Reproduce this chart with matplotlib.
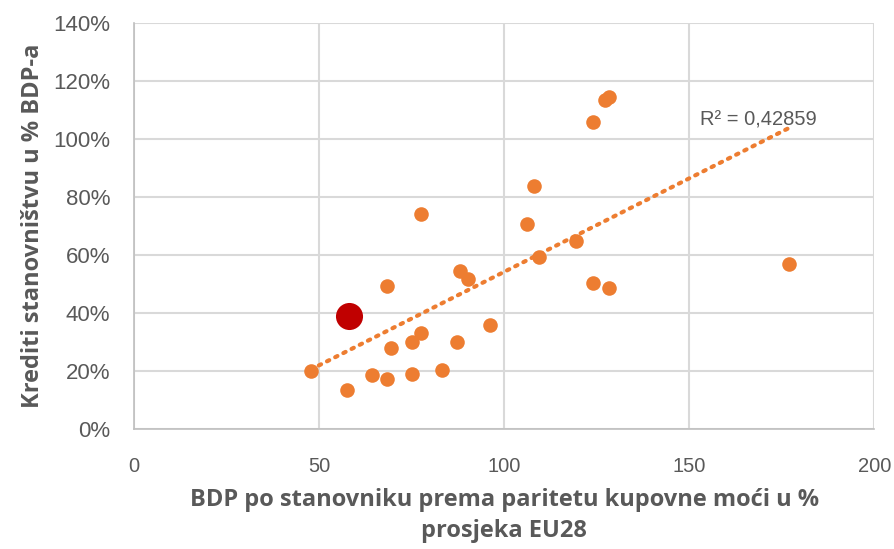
import matplotlib
matplotlib.use("Agg")
import matplotlib.pyplot as plt
import numpy as np

# GDP per capita (PPP, % of EU28 average) and household loans (% of GDP)
gdp_ppp = [47.7, 57.4, 64.4, 68.2, 68.2, 69.5, 75.0, 75.2, 77.4, 77.4,
           83.3, 87.3, 88.1, 90.3, 96.2, 106.2, 108.0, 109.4, 119.4,
           124.0, 124.0, 127.2, 128.3, 128.3, 177.0]
loans = [20.0, 13.4, 18.6, 49.3, 17.2, 27.9, 19.0, 30.0, 33.0, 74.0,
         20.3, 30.0, 54.5, 51.7, 35.9, 70.7, 83.8, 59.3, 64.8,
         105.9, 50.3, 113.4, 114.5, 48.6, 56.9]

# highlighted country
hr_gdp = [58.0]
hr_loans = [39.0]

r2_label = "R² = 0,42859"

orange = "#ED7D31"
red = "#C00000"
grey = "#595959"

fig = plt.figure(figsize=(8.94, 5.49), dpi=100)
ax = fig.add_axes([0.150, 0.219, 0.828, 0.739])

ax.scatter(gdp_ppp, loans, s=110, color=orange, zorder=3, linewidths=0)
ax.scatter(hr_gdp, hr_loans, s=380, color=red, zorder=4, linewidths=0)

# linear trendline over the data range
all_x = np.array(gdp_ppp + hr_gdp)
all_y = np.array(loans + hr_loans)
k, b = np.polyfit(all_x, all_y, 1)
tx = np.array([all_x.min(), all_x.max()])
ax.plot(tx, k * tx + b, color=orange, linestyle=(0, (0.6, 1.6)),
        linewidth=3, dash_capstyle="round", zorder=2)
ax.text(153, 106.5, r2_label, fontsize=14.5, color=grey,
        family="Liberation Sans", ha="left", va="center")

ax.set_xlim(0, 200)
ax.set_ylim(0, 140)
ax.set_xticks(range(0, 201, 50))
ax.set_yticks(range(0, 141, 20))
ax.set_yticklabels([f"{v}%" for v in range(0, 141, 20)])
ax.grid(True, color="#D9D9D9", linewidth=1.5)
ax.set_axisbelow(True)
for side in ["top", "right"]:
    ax.spines[side].set_visible(False)
for side in ["left", "bottom"]:
    ax.spines[side].set_color("#BFBFBF")
    ax.spines[side].set_linewidth(1.2)
ax.tick_params(length=0, colors=grey)
ax.tick_params(axis="y", pad=17, labelsize=16)
ax.tick_params(axis="x", pad=20, labelsize=14.5)
for lab in ax.get_xticklabels() + ax.get_yticklabels():
    lab.set_family("Liberation Sans")

ax.set_ylabel("Krediti stanovništvu u % BDP-a", fontsize=17,
              fontweight="bold", color=grey, family="Open Sans", labelpad=6)
ax.set_xlabel("BDP po stanovniku prema paritetu kupovne moći u %\nprosjeka EU28",
              fontsize=17, fontweight="bold", color=grey, family="Open Sans",
              labelpad=9, linespacing=1.4)

fig.savefig("out.png", dpi=100)
